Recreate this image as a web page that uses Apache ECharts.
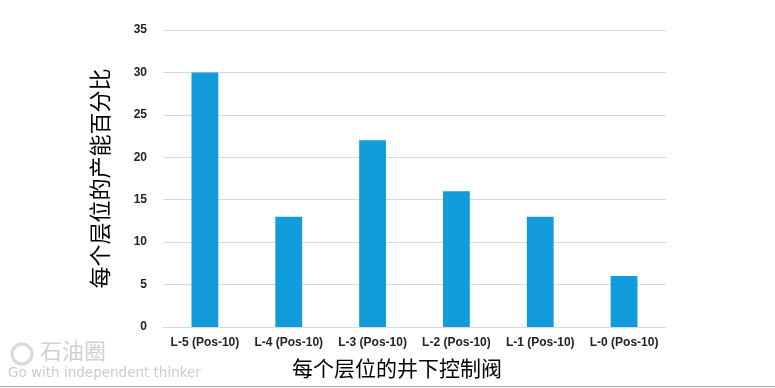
<!DOCTYPE html>
<html><head><meta charset="utf-8">
<script src="https://cdn.jsdelivr.net/npm/echarts@6/dist/echarts.min.js"></script>
<style>html,body{margin:0;padding:0;background:#fff}#c{width:775px;height:388px}</style>
</head><body><div id="c"></div>
<script>
const categories = ['L-5 (Pos-10)','L-4 (Pos-10)','L-3 (Pos-10)','L-2 (Pos-10)','L-1 (Pos-10)','L-0 (Pos-10)'];
const values = [30, 13, 22, 16, 13, 6];
const yName = '每个层位的产能百分比';
const xName = '每个层位的井下控制阀';

const chart = echarts.init(document.getElementById('c'));
chart.setOption({
  animation: false,
  grid: {left: 163, right: 109, top: 30, bottom: 61},
  xAxis: {
    type: 'category', data: categories,
    axisTick: {show: false},
    axisLine: {lineStyle: {color: '#d9d9d9', width: 1}},
    axisLabel: {interval: 0, color: '#222', fontWeight: 'bold', fontSize: 12, fontFamily: 'Liberation Sans, Arial', margin: 10}
  },
  yAxis: {
    type: 'value', min: 0, max: 35, interval: 5,
    axisLine: {show: false}, axisTick: {show: false},
    splitLine: {lineStyle: {color: '#d9d9d9', width: 1}},
    axisLabel: {color: '#222', fontWeight: 'bold', fontSize: 12, fontFamily: 'Liberation Sans, Arial', margin: 16},
    name: yName, nameLocation: 'middle', nameGap: 52, nameRotate: 90,
    nameTextStyle: {fontSize: 22, color: '#000', fontFamily: 'Noto Sans CJK SC'}
  },
  series: [{
    type: 'bar', data: values, barWidth: '32%',
    itemStyle: {color: '#129cdc'}
  }],
  graphic: [
    {type: 'text', x: 397, y: 368, style: {text: xName, fill: '#000', font: '21px "Noto Sans CJK SC"', textAlign: 'center', textVerticalAlign: 'middle'}},
    {type: 'circle', shape: {cx: 22, cy: 354, r: 10}, style: {fill: 'none', stroke: '#d8d8d8', lineWidth: 3}},
    {type: 'text', left: 40, top: 340, style: {text: '石油圈', fill: '#d0d0d0', font: '22px "Noto Sans CJK SC"'}},
    {type: 'text', left: 8, top: 366, style: {text: 'Go with independent thinker', fill: '#cccccc', font: '13.5px "DejaVu Sans"'}},
    {type: 'line', shape: {x1: 0, y1: 386.5, x2: 775, y2: 386.5}, style: {stroke: '#aaaaaa', lineWidth: 1}}
  ]
});
</script></body></html>
